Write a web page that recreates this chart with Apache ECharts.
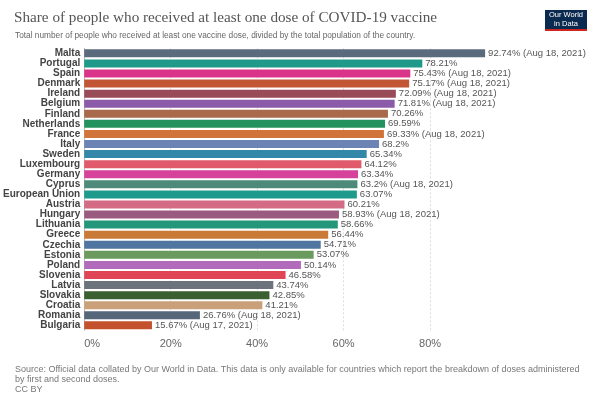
<!DOCTYPE html>
<html>
<head>
<meta charset="utf-8">
<script src="https://cdn.jsdelivr.net/npm/echarts@6/dist/echarts.min.js"></script>
<style>html,body{margin:0;padding:0;background:#fff}#c{width:600px;height:400px}</style>
</head>
<body>
<div id="c"></div>
<script>
const countries = ["Malta","Portugal","Spain","Denmark","Ireland","Belgium","Finland","Netherlands","France","Italy","Sweden","Luxembourg","Germany","Cyprus","European Union","Austria","Hungary","Lithuania","Greece","Czechia","Estonia","Poland","Slovenia","Latvia","Slovakia","Croatia","Romania","Bulgaria"];
const values = [92.74,78.21,75.43,75.17,72.09,71.81,70.26,69.59,69.33,68.2,65.34,64.12,63.34,63.2,63.07,60.21,58.93,58.66,56.44,54.71,53.07,50.14,46.58,43.74,42.85,41.21,26.76,15.67];
const dates = ["Aug 18, 2021","","Aug 18, 2021","Aug 18, 2021","Aug 18, 2021","Aug 18, 2021","","","Aug 18, 2021","","","","","Aug 18, 2021","","","Aug 18, 2021","","","","","","","","","","Aug 18, 2021","Aug 17, 2021"];
const colors = ["#5a6b7e","#1f9a8a","#d9348a","#c15534","#9a4b58","#8b5aa8","#a9694b","#23925e","#d17439","#6c84b3","#3387a8","#e05a6b","#d6419a","#4d8a7a","#1e9a8d","#d26b83","#9b5a80","#24967a","#c87a36","#4f75a0","#6b9a5e","#b26bbb","#e04556","#6c737c","#3a5f30","#c9a07a","#57677a","#c4512e"];
const ticks = [0,20,40,60,80];

const chart = echarts.init(document.getElementById('c'));
chart.setOption({
  animation: false,
  title: [{
    text: 'Share of people who received at least one dose of COVID-19 vaccine',
    left: 9, top: 6,
    textStyle: {fontFamily: 'Liberation Serif', fontWeight: 'normal', fontSize: 15.2, color: '#555'}
  },{
    text: 'Total number of people who received at least one vaccine dose, divided by the total population of the country.',
    left: 10, top: 27,
    textStyle: {fontFamily: 'Liberation Sans', fontWeight: 'normal', fontSize: 8.3, color: '#666'}
  },{
    text: 'Source: Official data collated by Our World in Data. This data is only available for countries which report the breakdown of doses administered\nby first and second doses.\nCC BY',
    left: 10, top: 360,
    textStyle: {fontFamily: 'Liberation Sans', fontWeight: 'normal', fontSize: 9, color: '#777', lineHeight: 10}
  }],
  graphic: [
    {type: 'rect', shape: {x: 545, y: 10, width: 42, height: 19}, style: {fill: '#0b2a50'}},
    {type: 'rect', shape: {x: 545, y: 29, width: 42, height: 2}, style: {fill: '#ce261e'}},
    {type: 'text', style: {x: 566, y: 11, text: 'Our World\nin Data', align: 'center', fill: '#fff', fontFamily: 'Liberation Sans', fontSize: 7.5, lineHeight: 8.5}}
  ],
  grid: {left: 83, right: 83.5, top: 48.3, bottom: 69.6, containLabel: false},
  xAxis: {
    type: 'value', min: 0, max: 100, interval: 20,
    axisLine: {show: false}, axisTick: {show: false},
    axisLabel: {
      margin: 8, color: '#666', fontFamily: 'Liberation Sans', fontSize: 11,
      alignMinLabel: 'left',
      formatter: v => ticks.indexOf(v) >= 0 ? v + '%' : ''
    },
    splitLine: {show: true, lineStyle: {type: [2, 2], color: ['transparent','#ddd','#ddd','#ddd','#ddd','transparent']}}
  },
  yAxis: {
    type: 'category', inverse: true, data: countries,
    axisLine: {show: true, lineStyle: {color: '#bbb'}},
    axisTick: {show: false},
    axisLabel: {interval: 0, margin: 4, color: '#444', fontFamily: 'Liberation Sans', fontWeight: 'bold', fontSize: 10}
  },
  series: [{
    type: 'bar', data: values, barWidth: 8,
    itemStyle: {color: p => colors[p.dataIndex]},
    label: {
      show: true, position: 'right', distance: 3,
      color: '#555', fontFamily: 'Liberation Sans', fontSize: 9.5,
      formatter: p => p.value + '%' + (dates[p.dataIndex] ? ' (' + dates[p.dataIndex] + ')' : '')
    }
  }]
});
</script>
</body>
</html>
